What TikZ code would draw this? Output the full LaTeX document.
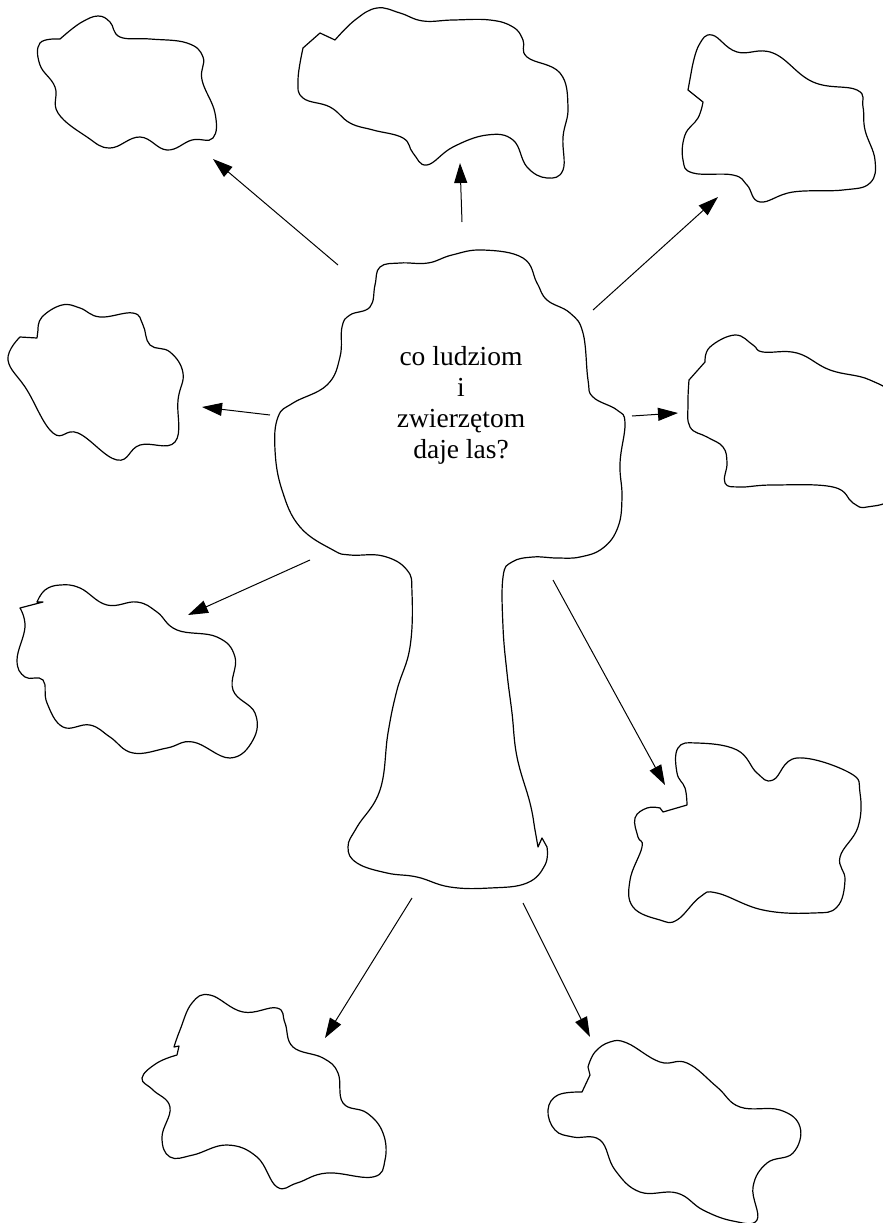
\documentclass[tikz,border=0pt]{standalone}
\usepackage{fontspec}
\setmainfont{Liberation Serif}
\usetikzlibrary{arrows.meta}
\tikzset{
  outline/.style={draw=black, line width=1.2pt, line join=round},
  arr/.style={draw=black, line width=1pt, -{Triangle[length=20pt,width=13pt]}},
  question/.style={align=center, inner sep=0pt, font=\fontsize{27.5}{31}\selectfont}
}
\begin{document}
\begin{tikzpicture}[x=1pt,y=-1pt]
\useasboundingbox (0,0) rectangle (883,1223);
\clip (0,0) rectangle (883,1223);
\fill[white] (0,0) rectangle (883,1223);

% central tree
\draw[outline] plot[smooth, tension=0.7] coordinates {
 (547,847) (545,865) (527,883) (490,888) (450,887) (417,877) (387,873)
 (357,863) (348,847) (357,827) (380,790) (388,733) (397,690) (410,647) (412,593)
 (407,570) (383,556) (350,555) (333,550) (300,527) (282,490) (275,450) (278,417)
 (293,403) (327,385) (340,357) (342,327) (350,315) (370,307) (375,285) (380,267)
 (400,263) (428,263) (452,255) (483,250) (523,258) (537,283) (547,300) (570,313)
 (583,333) (588,380) (593,397) (617,410) (625,423) (620,463) (622,497) (618,527)
 (603,548) (580,557) (557,558) (533,557) (512,562) (503,577) (503,627) (507,673)
 (512,713) (517,757) (530,803) (535,830) (538,847)} -- (542,838) -- cycle;
\node[question] (q) at (461,405) {co ludziom\\i\\zwierzętom\\daje las?};

% blob 1 (top left)
\draw[outline] plot[smooth, tension=0.7] coordinates {
 (67,33) (82,22) (98,16) (110,22) (120,37) (150,39) (187,43) (203,57) (202,80)
 (215,113) (213,138) (192,140) (167,150) (140,137) (110,148) (87,137) (58,113)
 (55,87) (40,65) (40,43) (60,39)} -- cycle;

% blob 2 (top centre)
\draw[outline] plot[smooth, tension=0.7] coordinates {
 (335,40) (355,20) (377,8) (400,13) (423,21) (453,20) (490,20) (513,27) (523,40)
 (527,57) (560,73) (568,107) (563,137) (563,170) (547,178) (527,167) (513,140)
 (487,135) (453,147) (427,165) (413,153) (403,138) (373,130) (350,123) (330,107)
 (303,98) (298,80) (303,48)} -- (320,33) -- cycle;

% blob 3 (top right)
\draw[outline] plot[smooth, tension=0.7] coordinates {
 (703,102) (698,118) (685,135) (683,160) (693,173) (733,175) (747,185) (760,202)
 (793,192) (843,190) (870,183) (875,160) (865,130) (863,107) (857,90) (813,82)
 (773,53) (737,52) (712,35) (699,45) (692,68)} -- (688,90) -- cycle;

% blob 4 (left middle)
\draw[outline] plot[smooth, tension=0.7] coordinates {
 (38,330) (42,317) (62,305) (80,308) (100,317) (133,313) (143,325) (150,345)
 (170,352) (183,373) (178,400) (175,442) (140,445) (117,460) (78,433) (53,433)
 (27,390) (8,360) (20,337)} -- (37,338) -- cycle;

% blob 5 (right middle)
\draw[outline] plot[smooth, tension=0.7] coordinates {
 (705,362) (710,347) (735,335) (753,345) (763,352) (797,353) (830,370) (870,380)
 (895,400) (905,450) (895,495) (867,507) (853,503) (833,487) (773,485) (740,487)
 (725,483) (727,463) (723,447) (707,437) (690,427) (688,403) (689,380)} -- cycle;

% blob 6 (left lower)
\draw[outline] plot[smooth, tension=0.7] coordinates {
 (37,602) (45,590) (60,585) (80,588) (107,605) (137,602) (157,612) (177,630)
 (217,637) (235,657) (233,690) (255,713) (253,740) (230,758) (193,742) (167,748)
 (133,753) (110,737) (90,725) (63,727) (47,703) (43,680) (25,677) (17,660)
 (25,627) (20,608)} -- (43,602) -- cycle;

% blob 7 (right lower)
\draw[outline] plot[smooth, tension=0.7] coordinates {
 (660,808) (647,808) (635,818) (638,837) (642,847) (630,880) (633,907) (660,920)
 (677,920) (700,897) (717,893) (763,910) (813,913) (837,907) (845,880) (840,857)
 (858,827) (860,793) (850,773) (797,758) (773,780) (757,773) (737,750) (697,743)
 (678,748) (677,773) (685,788) (687,805)} -- (663,812) -- cycle;

% blob 8 (bottom left)
\draw[outline] plot[smooth, tension=0.7] coordinates {
 (177,1055) (157,1063) (142,1078) (153,1090) (170,1107) (162,1137) (170,1157)
 (193,1155) (227,1145) (257,1157) (277,1187) (297,1183) (327,1173) (373,1177)
 (385,1160) (383,1133) (367,1113) (343,1103) (338,1073) (323,1058) (293,1047)
 (285,1023) (277,1008) (243,1012) (210,995) (192,1003) (180,1030) (174,1047)}
 -- (179,1046) -- cycle;

% blob 9 (bottom right)
\draw[outline] plot[smooth, tension=0.7] coordinates {
 (582,1092) (558,1095) (548,1110) (555,1130) (573,1137) (600,1140) (615,1170)
 (640,1192) (677,1193) (703,1210) (733,1221) (757,1220) (753,1187) (767,1163)
 (793,1153) (800,1127) (780,1110) (740,1107) (717,1087) (687,1063) (660,1062)
 (627,1043) (610,1042) (595,1052) (588,1067)} -- (590,1075) -- cycle;

% arrow end points
\coordinate (t1) at (338,265); \coordinate (h1) at (213,159);
\coordinate (t2) at (462,222); \coordinate (h2) at (460,163);
\coordinate (t3) at (593,310); \coordinate (h3) at (718,197);
\coordinate (t4) at (270,415); \coordinate (h4) at (202,407);
\coordinate (t5) at (632,416); \coordinate (h5) at (678,413);
\coordinate (t6) at (310,560); \coordinate (h6) at (188,615);
\coordinate (t7) at (553,580); \coordinate (h7) at (665,785);
\coordinate (t8) at (412,898); \coordinate (h8) at (325,1038);
\coordinate (t9) at (523,903); \coordinate (h9) at (590,1037);

\foreach \i in {1,...,9} { \draw[arr] (t\i) -- (h\i); }
\end{tikzpicture}
\end{document}
